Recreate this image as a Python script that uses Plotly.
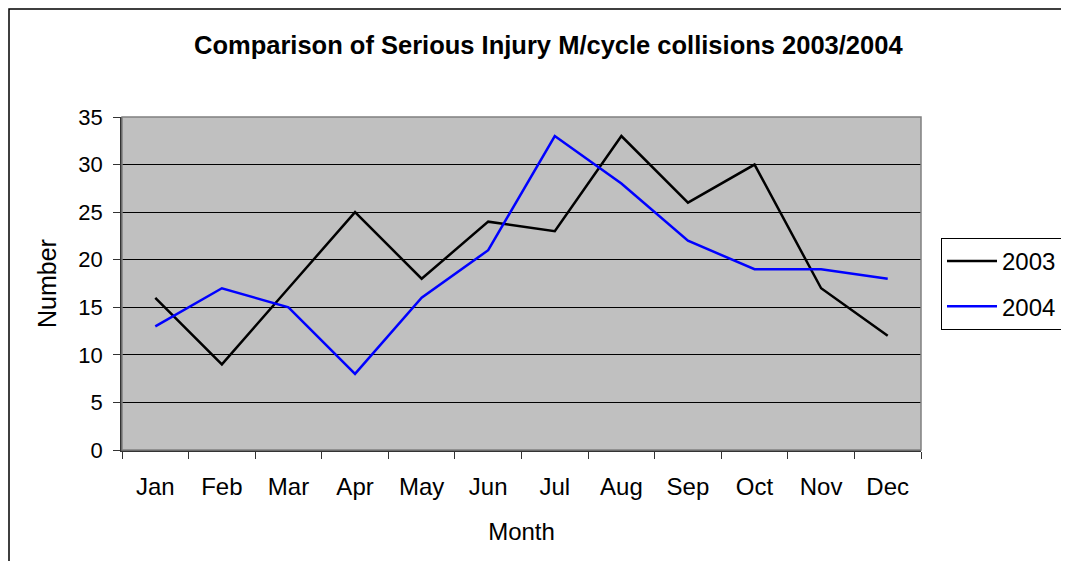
import plotly.graph_objects as go

months = ["Jan", "Feb", "Mar", "Apr", "May", "Jun", "Jul", "Aug", "Sep", "Oct", "Nov", "Dec"]
y2003 = [16, 9, 17, 25, 18, 24, 23, 33, 26, 30, 17, 12]
y2004 = [13, 17, 15, 8, 16, 21, 33, 28, 22, 19, 19, 18]

# page has an 8px body margin; work in page pixels and convert
OFF = 8
W, H = 1069 - 2 * OFF, 569 - 2 * OFF
PL, PR, PT, PB = 122, 921, 117, 450  # plot area in page pixels
L, T = PL - OFF, PT - OFF
R = W - (PR - OFF)
B = H - (PB - OFF)
pw, ph = PR - PL, PB - PT


def px(x):
    return (x - PL) / pw


def py(y):
    return (PB - y) / ph


font = "Liberation Sans, Arial, sans-serif"

fig = go.Figure()
fig.add_trace(go.Scatter(x=months, y=y2003, mode="lines", name="2003", legendgroup="a",
                         line=dict(color="black", width=2.5)))
fig.add_trace(go.Scatter(x=months, y=y2004, mode="lines", name="2004", legendgroup="b",
                         line=dict(color="#0000FF", width=2.5)))

fig.update_layout(
    width=W, height=H,
    margin=dict(l=L, r=R, t=T, b=B, autoexpand=False),
    paper_bgcolor="white",
    plot_bgcolor="#C0C0C0",
    font=dict(family=font, size=22, color="black"),
    showlegend=True,
    legend=dict(xref="container", yref="container",
                x=(941 - OFF) / W, y=1 - (238 - OFF) / H, xanchor="left", yanchor="top",
                bordercolor="black", borderwidth=1, bgcolor="white",
                font=dict(size=24), tracegroupgap=11, itemwidth=50),
    xaxis=dict(type="category", range=[-0.5, 11.5], tickson="boundaries",
               ticks="outside", ticklen=7, tickcolor="#333", showgrid=False,
               showline=True, linecolor="#333", linewidth=1.5,
               tickfont=dict(size=24), zeroline=False, ticklabelstandoff=14,
               title=dict(text="Month", font=dict(size=24), standoff=25)),
    yaxis=dict(range=[0, 35], dtick=5, ticks="outside", ticklen=7, tickcolor="#333",
               showgrid=True, gridcolor="black", gridwidth=1,
               showline=True, linecolor="#333", linewidth=1.5, zeroline=False,
               tickfont=dict(size=22), ticklabelstandoff=6,
               title=dict(text="Number", font=dict(size=25), standoff=15)),
    annotations=[dict(text="<b>Comparison of Serious Injury M/cycle collisions 2003/2004</b>",
                      x=px(548), y=py(45), xref="paper", yref="paper", showarrow=False,
                      xanchor="center", yanchor="middle", font=dict(size=25.5))],
    shapes=[
        dict(type="rect", xref="paper", yref="paper", x0=0, x1=1, y0=0, y1=1,
             line=dict(color="#808080", width=1.5)),
        dict(type="rect", xref="paper", yref="paper",
             x0=px(OFF + 1), x1=px(1069 + 10), y0=py(OFF + 1), y1=py(569 + 10),
             line=dict(color="black", width=1.5)),
    ],
)

fig.write_html("out.html")
